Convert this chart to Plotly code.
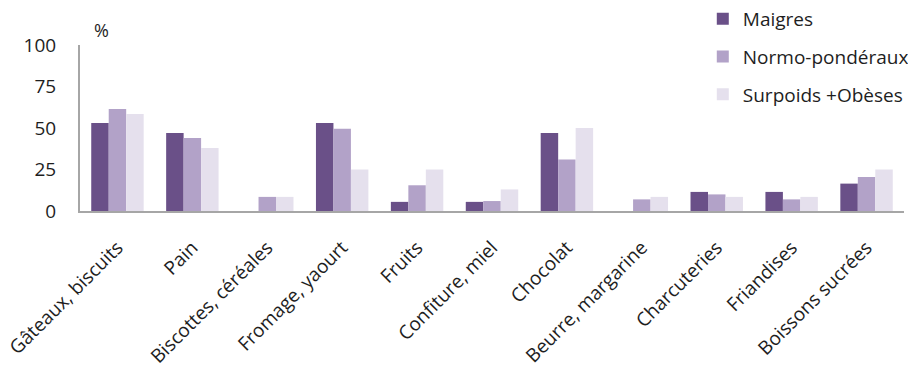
import plotly.graph_objects as go

# Categories and share (%) of each weight group
categories = [
    "Gâteaux, biscuits", "Pain", "Biscottes, céréales", "Fromage, yaourt",
    "Fruits", "Confiture, miel", "Chocolat", "Beurre, margarine",
    "Charcuteries", "Friandises", "Boissons sucrées",
]
maigres = [53, 47, 0, 53, 5.5, 5.5, 47, 0, 11.5, 11.5, 16.5]
normo = [61.5, 44, 8.5, 49.5, 15.5, 6, 31, 7, 10, 7, 20.5]
surpoids = [58.5, 38, 8.5, 25, 25, 13, 50, 8.5, 8.5, 8.5, 25]

series_names = ["Maigres", "Normo-pondéraux", "Surpoids +Obèses"]
series_values = [maigres, normo, surpoids]
series_colors = ["#6a5088", "#b2a2c8", "#e5e0ed"]

y_ticks = [0, 25, 50, 75, 100]

FONT = "Open Sans"
TEXT = "#1e1e1e"
AXIS = "#a6a6a6"

fig = go.Figure()
for name, vals, color in zip(series_names, series_values, series_colors):
    fig.add_trace(go.Bar(
        x=categories, y=vals, name=name,
        marker=dict(color=color, line=dict(width=0)),
        legendgroup=name,
    ))

fig.update_layout(
    width=908, height=369, autosize=False,
    margin=dict(l=80, r=4, t=45, b=158, autoexpand=False),
    paper_bgcolor="white", plot_bgcolor="white",
    barmode="group", bargap=0.3, bargroupgap=0,
    font=dict(family=FONT, color=TEXT, size=18),
    legend=dict(
        xref="container", yref="container",
        x=0.774, y=1.006, xanchor="left", yanchor="top",
        font=dict(size=19, family=FONT, color=TEXT),
        tracegroupgap=10, bgcolor="rgba(0,0,0,0)",
    ),
    xaxis=dict(
        showline=True, linecolor=AXIS, linewidth=2,
        showgrid=False, zeroline=False, ticks="", automargin=False,
        tickangle=-45, ticklabelstandoff=16,
        tickfont=dict(size=19, family=FONT, color=TEXT),
    ),
    yaxis=dict(
        range=[0, 100], tickvals=y_ticks, automargin=False,
        showline=True, linecolor=AXIS, linewidth=2,
        showgrid=False, zeroline=False, ticks="",
        ticklabelstandoff=18,
        tickfont=dict(size=19, family=FONT, color=TEXT),
    ),
    annotations=[dict(
        text="%", xref="paper", yref="paper", x=0.026, y=1.09,
        xanchor="center", yanchor="middle", showarrow=False,
        font=dict(size=18, family=FONT, color=TEXT),
    )],
)

fig.write_html("out.html")
